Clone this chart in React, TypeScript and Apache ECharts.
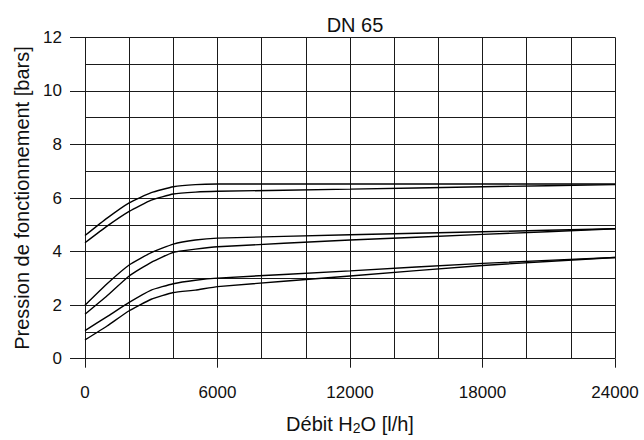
import React, { useEffect, useRef } from "react";
import * as echarts from "echarts";

// Flow rate sample points [l/h]
const flow = [0, 1000, 2000, 3000, 4000, 5000, 6000, 12000, 18000, 24000];

// Operating pressure curves [bars], three pairs of upper / lower bounds
const highUpper = [4.6, 5.25, 5.82, 6.2, 6.42, 6.5, 6.52, 6.52, 6.52, 6.52];
const highLower = [4.33, 4.95, 5.5, 5.92, 6.15, 6.22, 6.25, 6.33, 6.42, 6.5];
const midUpper = [2.0, 2.8, 3.5, 3.96, 4.28, 4.43, 4.5, 4.63, 4.74, 4.85];
const midLower = [1.66, 2.35, 3.09, 3.6, 3.97, 4.09, 4.18, 4.43, 4.64, 4.85];
const lowUpper = [1.05, 1.57, 2.1, 2.56, 2.8, 2.93, 3.01, 3.28, 3.56, 3.78];
const lowLower = [0.7, 1.22, 1.79, 2.22, 2.47, 2.56, 2.69, 3.09, 3.48, 3.78];

const curves = [highUpper, highLower, midUpper, midLower, lowUpper, lowLower];

const FONT = "'Liberation Sans', Arial, Helvetica, sans-serif";
const INK = "#111";
const GRID = "#1a1a1a";

export default function App() {
  const ref = useRef<HTMLDivElement>(null);

  useEffect(() => {
    if (!ref.current) return;
    const chart = echarts.init(ref.current, undefined, { renderer: "svg" });

    chart.setOption({
      animation: false,
      backgroundColor: "#fff",
      textStyle: { fontFamily: FONT, color: INK },
      title: {
        text: "DN 65",
        left: 350,
        textAlign: "center",
        top: 10,
        textStyle: { fontFamily: FONT, fontSize: 20, fontWeight: "normal", color: INK },
      },
      grid: { left: 85, right: 29, top: 37.3, bottom: 81.3, outerBoundsMode: "none", containLabel: false },
      xAxis: [
        {
          type: "value",
          min: 0,
          max: 24000,
          interval: 2000,
          position: "bottom",
          axisLine: { show: false },
          axisTick: { show: false },
          axisLabel: { show: false },
          splitLine: { show: true, lineStyle: { color: GRID, width: 1 } },
        },
        {
          type: "value",
          min: 0,
          max: 24000,
          interval: 6000,
          position: "bottom",
          axisLine: { show: false },
          axisTick: { show: true, length: 9, inside: false, lineStyle: { color: GRID, width: 1 } },
          axisLabel: {
            fontFamily: FONT,
            fontSize: 17,
            color: INK,
            margin: 25,
            formatter: (v: number) => String(v),
          },
          splitLine: { show: false },
          name: "Débit H{sub|2}O [l/h]",
          nameLocation: "middle",
          nameGap: 55,
          nameTextStyle: {
            fontFamily: FONT,
            fontSize: 20,
            color: INK,
            rich: {
              sub: { fontFamily: FONT, fontSize: 14, color: INK, verticalAlign: "bottom", padding: [7, 0, 0, 0] },
            },
          },
        },
      ],
      yAxis: [
        {
          type: "value",
          min: 0,
          max: 12,
          interval: 1,
          position: "left",
          axisLine: { show: false },
          axisTick: { show: false },
          axisLabel: { show: false },
          splitLine: { show: true, lineStyle: { color: GRID, width: 1 } },
        },
        {
          type: "value",
          min: 0,
          max: 12,
          interval: 2,
          position: "left",
          axisLine: { show: false },
          axisTick: { show: true, length: 15, inside: false, lineStyle: { color: GRID, width: 1 } },
          axisLabel: { fontFamily: FONT, fontSize: 17, color: INK, margin: 23, formatter: (v: number) => String(v) },
          splitLine: { show: false },
          name: "Pression de fonctionnement [bars]",
          nameLocation: "middle",
          nameGap: 52,
          nameTextStyle: { fontFamily: FONT, fontSize: 20, color: INK },
        },
      ],
      series: curves.map((values) => ({
        type: "line",
        xAxisIndex: 0,
        yAxisIndex: 0,
        data: flow.map((f, i) => [f, values[i]]),
        showSymbol: false,
        symbol: "none",
        smooth: 0.15,
        lineStyle: { color: "#000", width: 1.4 },
        silent: true,
      })),
    });

    return () => chart.dispose();
  }, []);

  return (
    <div
      ref={ref}
      style={{ position: "absolute", left: 0, top: 0, width: 644, height: 440 }}
    />
  );
}
